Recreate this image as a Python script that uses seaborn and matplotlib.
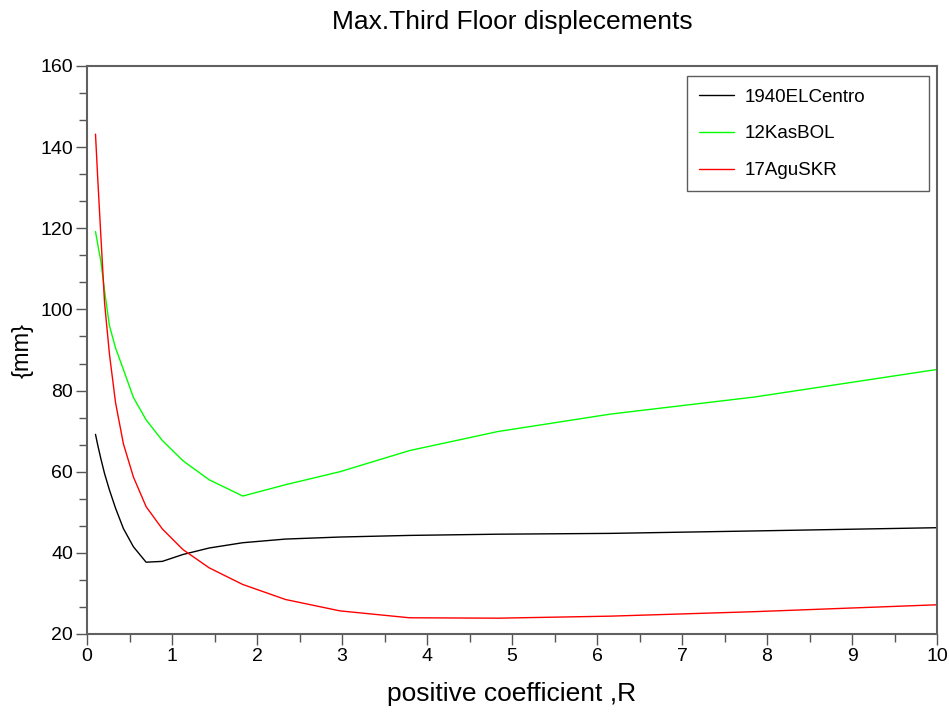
import numpy as np
import pandas as pd
import matplotlib
matplotlib.use("Agg")
import matplotlib.pyplot as plt
from matplotlib.ticker import MultipleLocator, AutoMinorLocator
import seaborn as sns

R = [0.1, 0.127, 0.162, 0.207, 0.264, 0.336, 0.428, 0.546, 0.695, 0.886,
     1.129, 1.438, 1.833, 2.336, 2.976, 3.793, 4.833, 6.158, 7.848, 10.0]

# max third floor displacement, mm
elcentro = [69.2, 66.5, 63.3, 59.5, 55.5, 51.0, 46.0, 41.5, 37.7, 37.9,
            39.6, 41.2, 42.5, 43.4, 43.9, 44.3, 44.6, 44.8, 45.4, 46.2]
kasbol = [119.2, 116.0, 112.0, 104.5, 96.0, 90.5, 85.2, 78.3, 72.8, 67.7,
          62.7, 58.0, 54.0, 56.8, 60.0, 65.2, 69.9, 74.2, 78.4, 85.2]
aguskr = [143.2, 132.0, 118.5, 101.5, 89.0, 77.0, 66.9, 58.7, 51.4, 45.9,
          40.8, 36.3, 32.2, 28.5, 25.7, 24.0, 23.9, 24.4, 25.5, 27.2]

names = ["1940ELCentro", "12KasBOL", "17AguSKR"]
colors = ["black", "#00ff00", "#ff0000"]

df = pd.DataFrame({
    "R": R * 3,
    "disp": elcentro + kasbol + aguskr,
    "record": [names[0]] * len(R) + [names[1]] * len(R) + [names[2]] * len(R),
})

sns.set_theme(style="white")
plt.rcParams['font.family'] = ['Liberation Sans', 'DejaVu Sans']
plt.rcParams['text.color'] = 'black'
plt.rcParams['axes.labelcolor'] = 'black'

fig = plt.figure(figsize=(9.49, 7.13), dpi=100)
ax = fig.add_axes([87 / 949, 1 - 634 / 713, 850 / 949, 568 / 713])

sns.lineplot(data=df, x="R", y="disp", hue="record", hue_order=names,
             palette=dict(zip(names, colors)), estimator=None, sort=False,
             linewidth=1.0, ax=ax)

ax.set_xlim(0, 10)
ax.set_ylim(20, 160)
ax.xaxis.set_major_locator(MultipleLocator(1))
ax.xaxis.set_minor_locator(AutoMinorLocator(2))
ax.yaxis.set_major_locator(MultipleLocator(20))
ax.yaxis.set_minor_locator(AutoMinorLocator(3))
ax.tick_params(which="major", direction="out", length=8, width=1,
               color="#555555", labelsize=14, labelcolor="black", pad=2,
               left=True, bottom=True)
ax.tick_params(which="minor", direction="out", length=5.5, width=1,
               color="#555555", left=True, bottom=True)
for side, sp in ax.spines.items():
    sp.set_visible(True)
    sp.set_color("#606060")
    sp.set_linewidth(1.5)

ax.set_title("Max.Third Floor displecements", fontsize=19, pad=27, color="black")
ax.set_xlabel("positive coefficient ,R", fontsize=19, labelpad=12)
ax.set_ylabel("{mm}", fontsize=17, labelpad=5)

handles, labels = ax.get_legend_handles_labels()
leg = ax.legend(handles, labels, loc="upper left",
                bbox_to_anchor=(0.706, 0.783, 0.2846, 0.199), mode="expand",
                fontsize=13.5, handlelength=1.85, handletextpad=0.55,
                labelspacing=1.05, borderpad=0.65, borderaxespad=0,
                fancybox=False, frameon=True, labelcolor="black")
leg.get_frame().set_edgecolor("#333333")
leg.get_frame().set_linewidth(1.0)

fig.savefig("out.png", dpi=100)
